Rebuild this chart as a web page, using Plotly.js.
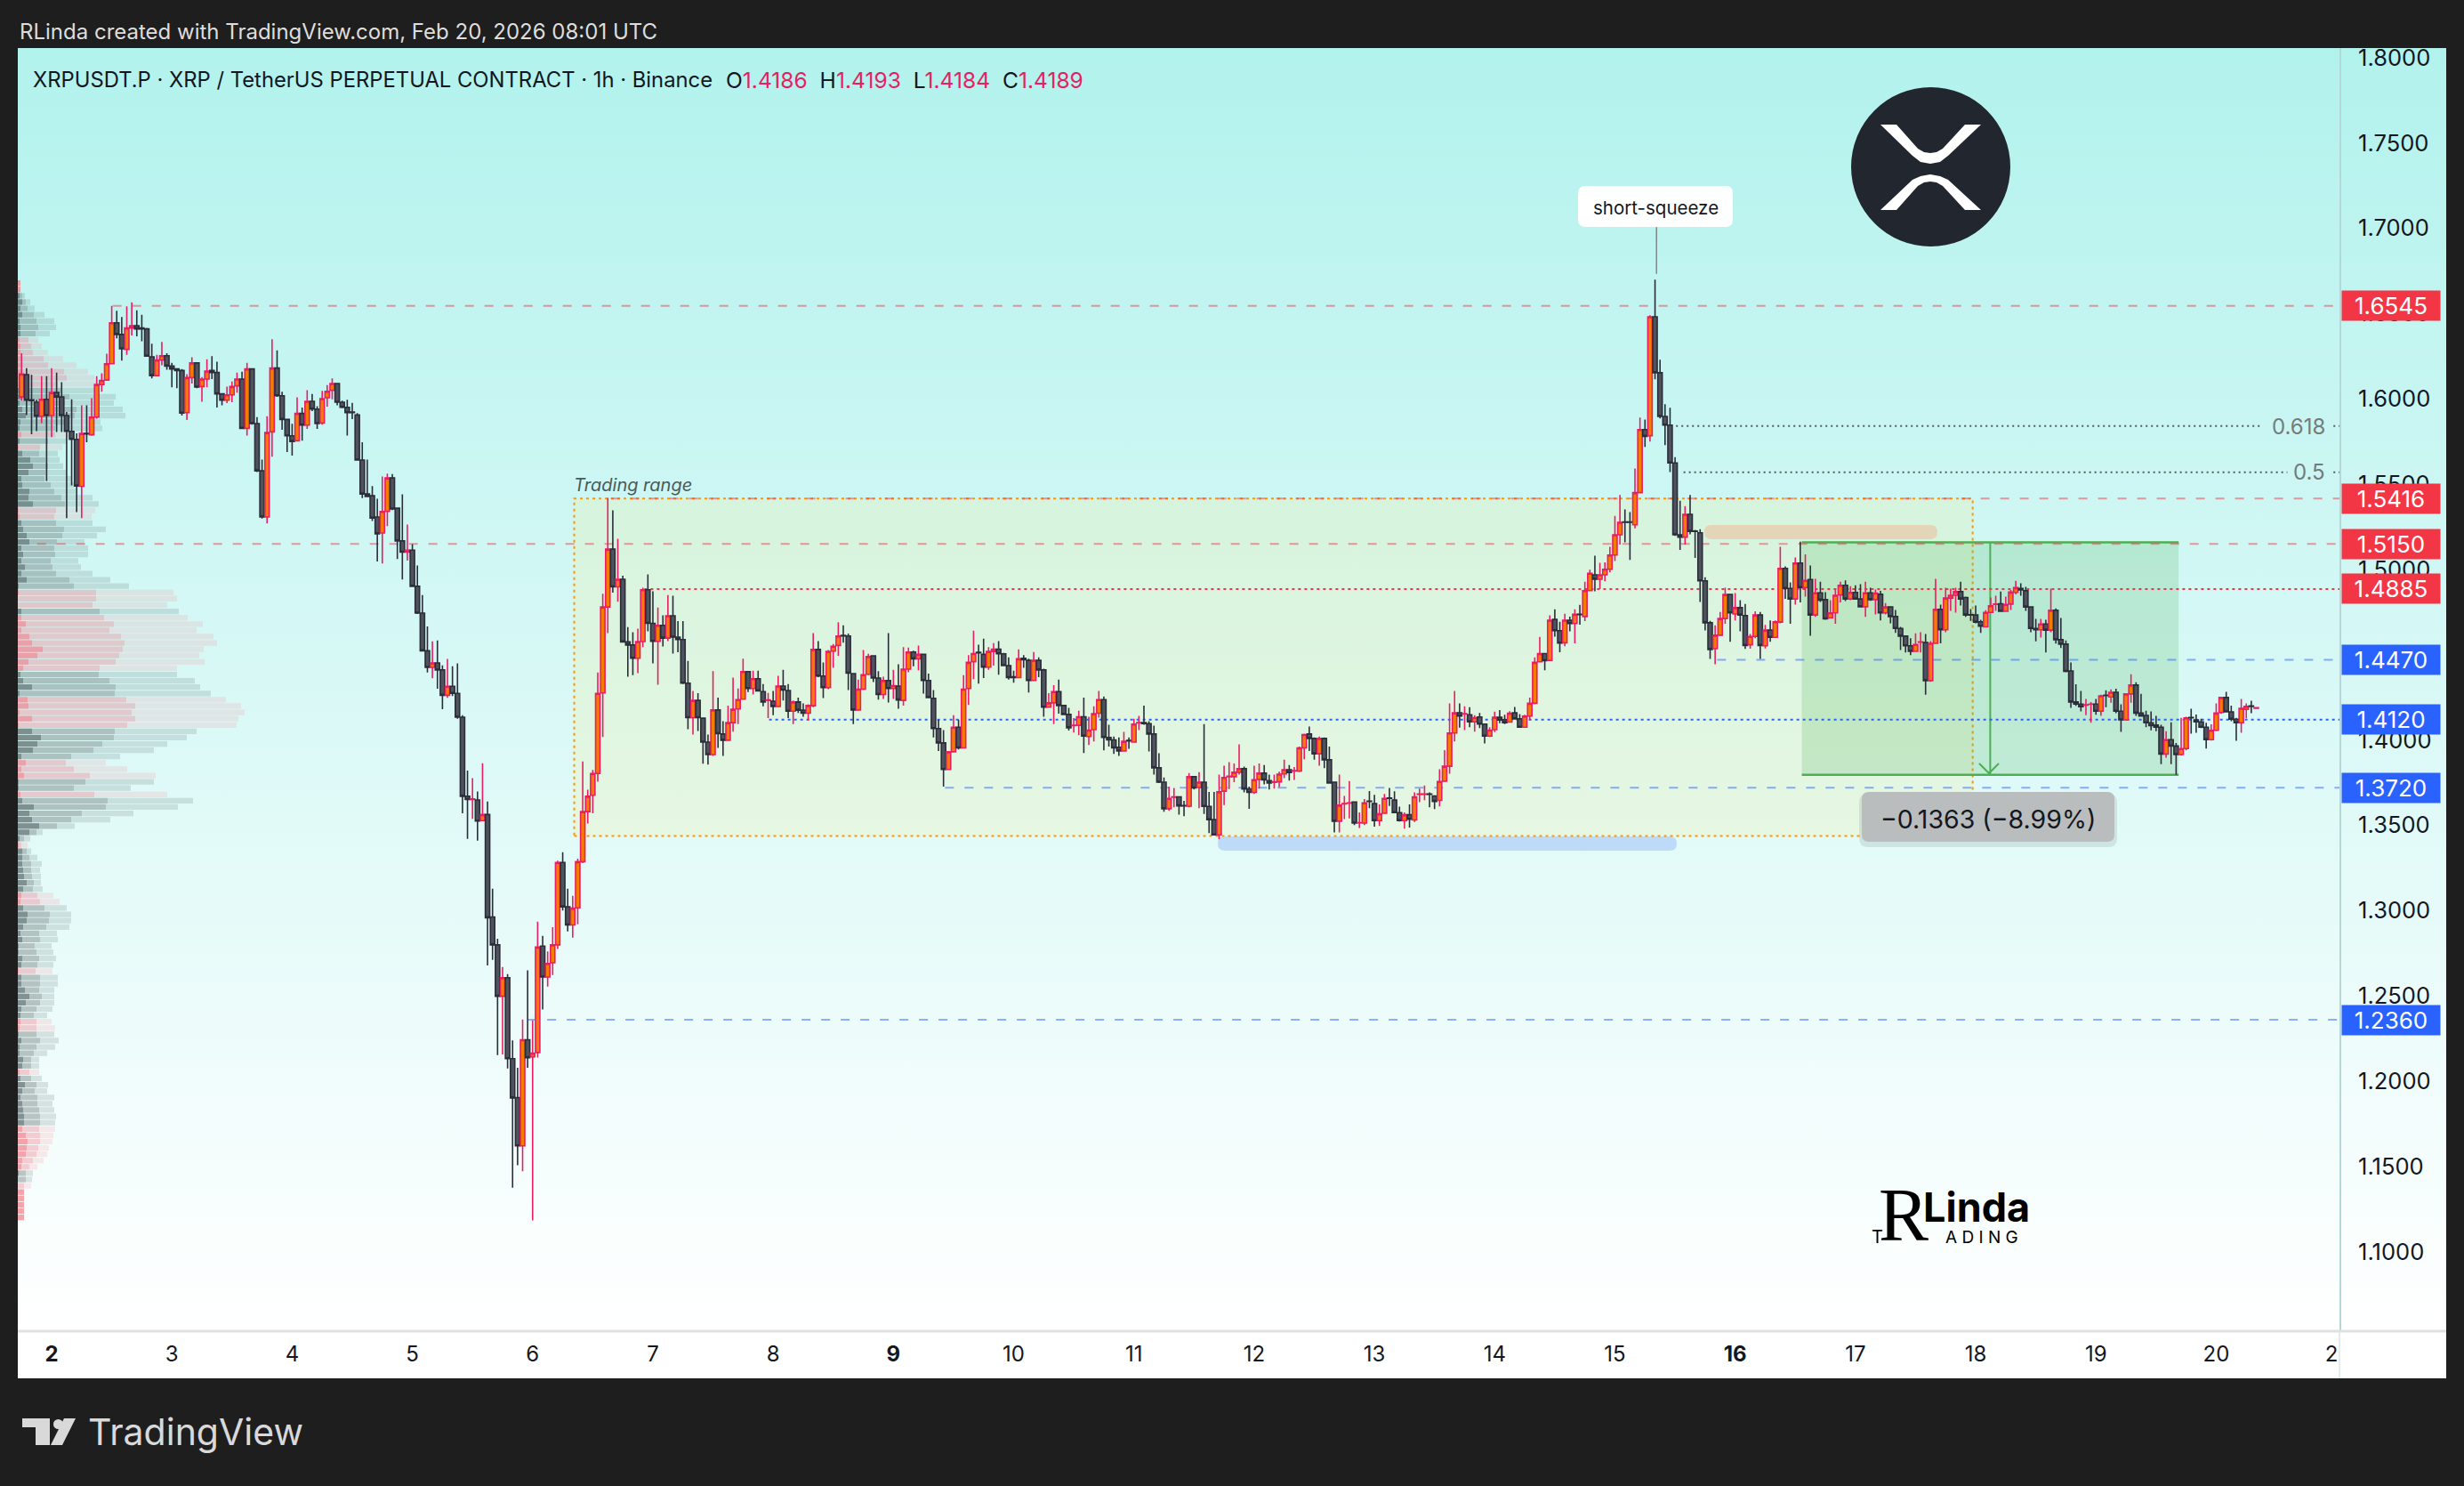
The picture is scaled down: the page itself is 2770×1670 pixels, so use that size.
<!DOCTYPE html>
<html>
<head>
<meta charset="utf-8">
<script src="https://cdn.plot.ly/plotly-3.0.1.min.js"></script>
<style>
  html, body { margin: 0; padding: 0; width: 2770px; height: 1670px; background: #1e1e1e; overflow: hidden; }
  #chart_bg { position: absolute; left: 20px; top: 54px; width: 2730px; height: 1441px; background: linear-gradient(180deg, #b2f2ed 0%, #ffffff 100%); }
  #time_bg { position: absolute; left: 20px; top: 1495px; width: 2730px; height: 54px; background: #ffffff; }
  #graph_panel { position: absolute; left: 0; top: 0; width: 2770px; height: 1670px; }
</style>
</head>
<body>
<div id="chart_bg"></div>
<div id="time_bg"></div>
<div id="graph_panel"></div>
<script>
// hourly candles, one list per day, each row is open, close, high, low
var feb01 = [[1.6011,1.6145,1.6267,1.5989],[1.6142,1.5992,1.6180,1.5905],[1.5994,1.5990,1.6140,1.5792],[1.5980,1.5898,1.5994,1.5811],[1.5898,1.5997,1.6133,1.5858],[1.5997,1.5902,1.6133,1.5519]];
var feb02 = [[1.5902,1.6037,1.6180,1.5776],[1.6037,1.6011,1.6154,1.5806],[1.6011,1.5902,1.6098,1.5806],[1.5902,1.5809,1.5923,1.5301],[1.5809,1.5762,1.5997,1.5493],[1.5762,1.5489,1.5797,1.5336],[1.5487,1.5797,1.5962,1.5301],[1.5797,1.5794,1.5962,1.5745],[1.5789,1.5893,1.6003,1.5783],[1.5893,1.6084,1.6133,1.5884],[1.6084,1.6107,1.6149,1.6041],[1.6110,1.6206,1.6264,1.6110],[1.6206,1.6446,1.6545,1.6206],[1.6446,1.6377,1.6516,1.6354],[1.6377,1.6293,1.6479,1.6224],[1.6290,1.6415,1.6542,1.6258],[1.6415,1.6429,1.6566,1.6371],[1.6429,1.6410,1.6519,1.6366],[1.6415,1.6410,1.6493,1.6337],[1.6410,1.6250,1.6415,1.6246],[1.6246,1.6136,1.6323,1.6119],[1.6136,1.6227,1.6258,1.6131],[1.6227,1.6253,1.6333,1.6197],[1.6253,1.6192,1.6267,1.6171]];
var feb03 = [[1.6192,1.6175,1.6211,1.6067],[1.6175,1.6166,1.6180,1.6062],[1.6166,1.5916,1.6175,1.5902],[1.5919,1.6124,1.6145,1.5876],[1.6124,1.6210,1.6244,1.6090],[1.6210,1.6069,1.6215,1.6062],[1.6072,1.6116,1.6128,1.5983],[1.6116,1.6163,1.6232,1.6067],[1.6166,1.6154,1.6250,1.6116],[1.6154,1.6029,1.6218,1.5949],[1.6029,1.5992,1.6032,1.5962],[1.5992,1.6023,1.6072,1.5975],[1.6023,1.6072,1.6102,1.5980],[1.6076,1.6116,1.6154,1.6036],[1.6116,1.5827,1.6159,1.5823],[1.5827,1.6175,1.6211,1.5785],[1.6175,1.5855,1.6180,1.5849],[1.5855,1.5578,1.5893,1.5571],[1.5578,1.5307,1.5644,1.5298],[1.5307,1.5802,1.5898,1.5270],[1.5806,1.6180,1.6349,1.5661],[1.6180,1.6018,1.6284,1.6011],[1.6018,1.5879,1.6041,1.5818],[1.5879,1.5783,1.5884,1.5688]];
var feb04 = [[1.5783,1.5750,1.5853,1.5667],[1.5754,1.5914,1.6009,1.5750],[1.5914,1.5846,1.5949,1.5754],[1.5846,1.5985,1.6050,1.5823],[1.5985,1.5940,1.6029,1.5928],[1.5940,1.5855,1.5957,1.5823],[1.5858,1.6001,1.6046,1.5849],[1.6006,1.6044,1.6081,1.5954],[1.6050,1.6090,1.6119,1.5997],[1.6090,1.5980,1.6093,1.5962],[1.5980,1.5950,1.5989,1.5945],[1.5950,1.5919,1.5994,1.5785],[1.5922,1.5919,1.5976,1.5881],[1.5905,1.5641,1.5916,1.5637],[1.5641,1.5442,1.5745,1.5418],[1.5442,1.5428,1.5644,1.5423],[1.5432,1.5301,1.5489,1.5284],[1.5307,1.5209,1.5414,1.5046],[1.5213,1.5340,1.5545,1.5035],[1.5340,1.5536,1.5562,1.5254],[1.5536,1.5354,1.5559,1.5348],[1.5359,1.5167,1.5362,1.5061],[1.5167,1.5101,1.5440,1.4941],[1.5101,1.5113,1.5263,1.5052]];
var feb05 = [[1.5113,1.4901,1.5148,1.4896],[1.4901,1.4744,1.5023,1.4739],[1.4744,1.4523,1.4849,1.4520],[1.4523,1.4426,1.4666,1.4396],[1.4426,1.4452,1.4579,1.4362],[1.4452,1.4410,1.4584,1.4301],[1.4411,1.4262,1.4437,1.4181],[1.4262,1.4315,1.4475,1.4247],[1.4315,1.4273,1.4432,1.4258],[1.4273,1.4134,1.4449,1.4124],[1.4134,1.3670,1.4145,1.3570],[1.3670,1.3651,1.3821,1.3421],[1.3651,1.3655,1.3776,1.3538],[1.3649,1.3525,1.3698,1.3410],[1.3527,1.3563,1.3864,1.3527],[1.3563,1.2958,1.3640,1.2679],[1.2963,1.2799,1.3129,1.2711],[1.2799,1.2498,1.2835,1.2153],[1.2498,1.2607,1.2669,1.2157],[1.2607,1.2132,1.2628,1.2075],[1.2132,1.1902,1.2239,1.1376],[1.1904,1.1621,1.2079,1.1508],[1.1621,1.2243,1.2362,1.1472],[1.2243,1.2138,1.2650,1.2079]];
var feb06 = [[1.2143,1.2164,1.2356,1.1184],[1.2168,1.2786,1.2935,1.2138],[1.2792,1.2611,1.2852,1.2420],[1.2611,1.2690,1.2760,1.2554],[1.2694,1.2799,1.2903,1.2622],[1.2799,1.3282,1.3293,1.2775],[1.3282,1.3022,1.3342,1.3001],[1.3022,1.2916,1.3129,1.2878],[1.2916,1.3014,1.3086,1.2841],[1.3016,1.3287,1.3304,1.2920],[1.3287,1.3580,1.3874,1.3278],[1.3580,1.3670,1.3708,1.3510],[1.3676,1.3804,1.3825,1.3570],[1.3804,1.4273,1.4396,1.3755],[1.4276,1.4780,1.4858,1.4018],[1.4780,1.5119,1.5419,1.4627],[1.5119,1.4898,1.5346,1.4864],[1.4898,1.4942,1.5180,1.4811],[1.4942,1.4575,1.4963,1.4571],[1.4575,1.4557,1.4662,1.4371],[1.4557,1.4479,1.4632,1.4380],[1.4479,1.4577,1.4653,1.4392],[1.4577,1.4881,1.4893,1.4545],[1.4881,1.4684,1.4971,1.4637]];
var feb07 = [[1.4684,1.4578,1.4872,1.4449],[1.4578,1.4672,1.4777,1.4324],[1.4672,1.4597,1.4731,1.4549],[1.4597,1.4728,1.4850,1.4580],[1.4728,1.4603,1.4846,1.4507],[1.4603,1.4589,1.4697,1.4514],[1.4589,1.4333,1.4697,1.4328],[1.4333,1.4131,1.4463,1.4063],[1.4131,1.4232,1.4288,1.4032],[1.4232,1.4131,1.4275,1.4053],[1.4128,1.3988,1.4131,1.3861],[1.3988,1.3915,1.4032,1.3856],[1.3915,1.4176,1.4403,1.3907],[1.4176,1.4037,1.4249,1.3954],[1.4035,1.3999,1.4110,1.3907],[1.3999,1.4102,1.4202,1.3994],[1.4102,1.4180,1.4366,1.4049],[1.4182,1.4237,1.4302,1.4093],[1.4239,1.4401,1.4476,1.4237],[1.4401,1.4302,1.4401,1.4281],[1.4302,1.4359,1.4406,1.4267],[1.4359,1.4288,1.4406,1.4284],[1.4284,1.4223,1.4328,1.4197],[1.4232,1.4235,1.4276,1.4128]];
var feb08 = [[1.4227,1.4197,1.4288,1.4145],[1.4197,1.4316,1.4376,1.4194],[1.4316,1.4293,1.4411,1.4232],[1.4290,1.4169,1.4328,1.4128],[1.4169,1.4223,1.4232,1.4093],[1.4223,1.4175,1.4249,1.4159],[1.4175,1.4157,1.4215,1.4136],[1.4157,1.4202,1.4209,1.4114],[1.4201,1.4531,1.4627,1.4192],[1.4531,1.4375,1.4580,1.4368],[1.4375,1.4307,1.4455,1.4246],[1.4307,1.4519,1.4528,1.4298],[1.4521,1.4550,1.4563,1.4423],[1.4554,1.4610,1.4690,1.4493],[1.4613,1.4610,1.4672,1.4571],[1.4610,1.4392,1.4624,1.4293],[1.4389,1.4176,1.4392,1.4093],[1.4176,1.4298,1.4354,1.4171],[1.4298,1.4383,1.4528,1.4293],[1.4385,1.4489,1.4505,1.4380],[1.4493,1.4363,1.4493,1.4340],[1.4363,1.4267,1.4403,1.4237],[1.4267,1.4349,1.4371,1.4241],[1.4349,1.4302,1.4627,1.4220]];
var feb09 = [[1.4302,1.4319,1.4411,1.4241],[1.4316,1.4235,1.4444,1.4183],[1.4232,1.4415,1.4545,1.4201],[1.4415,1.4516,1.4542,1.4397],[1.4516,1.4476,1.4523,1.4432],[1.4476,1.4502,1.4554,1.4409],[1.4502,1.4349,1.4505,1.4272],[1.4349,1.4249,1.4389,1.4246],[1.4244,1.4067,1.4293,1.4015],[1.4067,1.3983,1.4119,1.3936],[1.3983,1.3827,1.4058,1.3727],[1.3827,1.3931,1.3936,1.3823],[1.3931,1.4075,1.4145,1.3927],[1.4075,1.3954,1.4119,1.3945],[1.3954,1.4298,1.4380,1.3950],[1.4302,1.4455,1.4498,1.4206],[1.4459,1.4507,1.4641,1.4357],[1.4514,1.4511,1.4559,1.4331],[1.4502,1.4427,1.4594,1.4363],[1.4427,1.4519,1.4545,1.4411],[1.4519,1.4533,1.4568,1.4436],[1.4533,1.4505,1.4580,1.4383],[1.4505,1.4436,1.4510,1.4432],[1.4436,1.4366,1.4484,1.4354]];
var feb10 = [[1.4371,1.4366,1.4406,1.4336],[1.4366,1.4476,1.4531,1.4363],[1.4479,1.4470,1.4497,1.4423],[1.4467,1.4349,1.4476,1.4279],[1.4349,1.4467,1.4516,1.4345],[1.4467,1.4411,1.4484,1.4368],[1.4411,1.4192,1.4418,1.4136],[1.4192,1.4218,1.4275,1.4188],[1.4218,1.4284,1.4322,1.4093],[1.4284,1.4202,1.4354,1.4154],[1.4202,1.4150,1.4206,1.4145],[1.4150,1.4072,1.4188,1.4055],[1.4084,1.4086,1.4128,1.4044],[1.4086,1.4136,1.4171,1.4028],[1.4136,1.4023,1.4249,1.3924],[1.4020,1.4058,1.4136,1.3971],[1.4061,1.4154,1.4197,1.3992],[1.4157,1.4237,1.4288,1.4131],[1.4237,1.4015,1.4255,1.3940],[1.4015,1.4001,1.4089,1.3962],[1.4001,1.3954,1.4020,1.3919],[1.3957,1.3936,1.4015,1.3907],[1.3936,1.3992,1.4048,1.3933],[1.3998,1.3995,1.4015,1.3948]];
var feb11 = [[1.3988,1.4093,1.4124,1.3985],[1.4100,1.4102,1.4142,1.4058],[1.4102,1.4096,1.4201,1.4089],[1.4096,1.4035,1.4110,1.3933],[1.4035,1.3837,1.4084,1.3797],[1.3837,1.3753,1.3922,1.3748],[1.3753,1.3597,1.3780,1.3580],[1.3597,1.3658,1.3727,1.3585],[1.3665,1.3667,1.3719,1.3606],[1.3667,1.3614,1.3667,1.3562],[1.3616,1.3614,1.3644,1.3553],[1.3612,1.3785,1.3806,1.3606],[1.3785,1.3719,1.3788,1.3710],[1.3722,1.3753,1.3811,1.3600],[1.3753,1.3611,1.4093,1.3567],[1.3611,1.3533,1.3696,1.3454],[1.3533,1.3444,1.3696,1.3440],[1.3444,1.3696,1.3797,1.3418],[1.3700,1.3780,1.3849,1.3619],[1.3785,1.3788,1.3870,1.3713],[1.3785,1.3811,1.3863,1.3753],[1.3811,1.3832,1.3974,1.3797],[1.3832,1.3713,1.3844,1.3693],[1.3713,1.3693,1.3727,1.3597]];
var feb12 = [[1.3693,1.3767,1.3849,1.3684],[1.3769,1.3806,1.3863,1.3715],[1.3806,1.3766,1.3854,1.3740],[1.3762,1.3748,1.3797,1.3710],[1.3752,1.3755,1.3797,1.3715],[1.3755,1.3800,1.3814,1.3724],[1.3802,1.3826,1.3884,1.3776],[1.3826,1.3809,1.3854,1.3762],[1.3818,1.3820,1.3841,1.3766],[1.3818,1.3954,1.3962,1.3811],[1.3954,1.4032,1.4037,1.3887],[1.4035,1.4009,1.4079,1.3936],[1.4009,1.3919,1.4015,1.3884],[1.3919,1.4009,1.4020,1.3849],[1.4009,1.3884,1.4015,1.3835],[1.3884,1.3748,1.3962,1.3745],[1.3753,1.3524,1.3753,1.3458],[1.3524,1.3618,1.3797,1.3458],[1.3625,1.3627,1.3672,1.3536],[1.3630,1.3632,1.3759,1.3541],[1.3637,1.3513,1.3640,1.3501],[1.3514,1.3516,1.3576,1.3484],[1.3513,1.3632,1.3654,1.3501],[1.3642,1.3640,1.3701,1.3600]];
var feb13 = [[1.3627,1.3527,1.3679,1.3492],[1.3527,1.3567,1.3623,1.3496],[1.3571,1.3658,1.3684,1.3567],[1.3660,1.3658,1.3719,1.3614],[1.3648,1.3574,1.3700,1.3571],[1.3574,1.3527,1.3609,1.3522],[1.3527,1.3562,1.3576,1.3480],[1.3562,1.3536,1.3623,1.3487],[1.3531,1.3667,1.3693,1.3519],[1.3682,1.3684,1.3715,1.3635],[1.3682,1.3684,1.3733,1.3647],[1.3684,1.3682,1.3693,1.3606],[1.3672,1.3640,1.3675,1.3595],[1.3646,1.3757,1.3828,1.3611],[1.3759,1.3846,1.3941,1.3757],[1.3846,1.4041,1.4215,1.3802],[1.4041,1.4159,1.4288,1.3992],[1.4159,1.4140,1.4215,1.4072],[1.4152,1.4154,1.4197,1.4058],[1.4148,1.4107,1.4192,1.4075],[1.4107,1.4131,1.4145,1.4049],[1.4135,1.4093,1.4159,1.4070],[1.4093,1.4023,1.4096,1.3980],[1.4023,1.4058,1.4075,1.4018]];
var feb14 = [[1.4061,1.4133,1.4166,1.4046],[1.4133,1.4117,1.4176,1.4098],[1.4119,1.4102,1.4148,1.4093],[1.4105,1.4157,1.4169,1.4102],[1.4159,1.4124,1.4194,1.4119],[1.4124,1.4075,1.4152,1.4072],[1.4075,1.4140,1.4148,1.4072],[1.4140,1.4215,1.4249,1.4115],[1.4215,1.4455,1.4484,1.4209],[1.4458,1.4507,1.4604,1.4455],[1.4507,1.4465,1.4510,1.4409],[1.4467,1.4702,1.4731,1.4463],[1.4707,1.4641,1.4766,1.4606],[1.4641,1.4568,1.4693,1.4514],[1.4570,1.4702,1.4740,1.4550],[1.4702,1.4683,1.4723,1.4637],[1.4683,1.4737,1.4766,1.4566],[1.4737,1.4735,1.4792,1.4676],[1.4724,1.4876,1.4928,1.4697],[1.4876,1.4977,1.4998,1.4872],[1.4968,1.4942,1.5081,1.4872],[1.4942,1.4968,1.5039,1.4885],[1.4968,1.5001,1.5041,1.4931],[1.5001,1.5084,1.5133,1.4983]];
var feb15 = [[1.5084,1.5203,1.5314,1.5049],[1.5203,1.5276,1.5436,1.5145],[1.5278,1.5276,1.5352,1.5159],[1.5278,1.5276,1.5336,1.5055],[1.5262,1.5450,1.5592,1.5241],[1.5450,1.5820,1.5890,1.5446],[1.5820,1.5780,1.5879,1.5718],[1.5784,1.6481,1.6490,1.5749],[1.6481,1.6153,1.6699,1.6114],[1.6153,1.5897,1.6229,1.5885],[1.5897,1.5846,1.5968,1.5728],[1.5846,1.5624,1.5947,1.5571],[1.5624,1.5203,1.5658,1.5197],[1.5203,1.5189,1.5403,1.5114],[1.5189,1.5323,1.5371,1.5145],[1.5323,1.5223,1.5436,1.5206],[1.5225,1.5223,1.5232,1.5067],[1.5215,1.4933,1.5236,1.4809],[1.4933,1.4687,1.4954,1.4642],[1.4687,1.4531,1.4698,1.4475],[1.4535,1.4614,1.4672,1.4444],[1.4614,1.4712,1.4750,1.4609],[1.4712,1.4853,1.4893,1.4681],[1.4853,1.4745,1.4858,1.4576]];
var feb16 = [[1.4739,1.4776,1.4861,1.4701],[1.4776,1.4733,1.4820,1.4637],[1.4729,1.4554,1.4797,1.4534],[1.4558,1.4607,1.4621,1.4535],[1.4607,1.4733,1.4754,1.4597],[1.4733,1.4554,1.4750,1.4475],[1.4552,1.4644,1.4675,1.4536],[1.4644,1.4602,1.4701,1.4576],[1.4602,1.4693,1.4701,1.4598],[1.4691,1.5006,1.5133,1.4684],[1.5006,1.4889,1.5018,1.4827],[1.4889,1.4827,1.4924,1.4681],[1.4827,1.5037,1.5070,1.4794],[1.5037,1.4893,1.5163,1.4806],[1.4893,1.4936,1.5088,1.4841],[1.4941,1.4733,1.5023,1.4611],[1.4733,1.4863,1.4945,1.4722],[1.4863,1.4820,1.4928,1.4809],[1.4823,1.4710,1.4867,1.4705],[1.4716,1.4745,1.4820,1.4714],[1.4745,1.4848,1.4882,1.4681],[1.4850,1.4907,1.4928,1.4806],[1.4907,1.4827,1.4935,1.4815],[1.4827,1.4865,1.4902,1.4820]];
var feb17 = [[1.4865,1.4827,1.4907,1.4823],[1.4827,1.4781,1.4914,1.4780],[1.4781,1.4863,1.4928,1.4722],[1.4863,1.4823,1.4893,1.4816],[1.4823,1.4861,1.4882,1.4736],[1.4854,1.4745,1.4875,1.4701],[1.4745,1.4780,1.4802,1.4736],[1.4780,1.4724,1.4780,1.4684],[1.4724,1.4654,1.4762,1.4628],[1.4654,1.4609,1.4663,1.4527],[1.4609,1.4552,1.4614,1.4513],[1.4552,1.4520,1.4597,1.4498],[1.4520,1.4560,1.4625,1.4519],[1.4574,1.4576,1.4632,1.4513],[1.4571,1.4348,1.4621,1.4266],[1.4348,1.4567,1.4580,1.4341],[1.4567,1.4766,1.4945,1.4566],[1.4766,1.4646,1.4794,1.4566],[1.4646,1.4832,1.4893,1.4632],[1.4832,1.4848,1.4888,1.4757],[1.4848,1.4870,1.4893,1.4747],[1.4870,1.4827,1.4928,1.4788],[1.4835,1.4733,1.4841,1.4722],[1.4735,1.4733,1.4768,1.4698]];
var feb18 = [[1.4733,1.4691,1.4788,1.4684],[1.4693,1.4667,1.4705,1.4628],[1.4663,1.4748,1.4761,1.4660],[1.4748,1.4787,1.4835,1.4745],[1.4795,1.4797,1.4846,1.4757],[1.4799,1.4754,1.4870,1.4750],[1.4754,1.4795,1.4841,1.4750],[1.4797,1.4867,1.4879,1.4762],[1.4865,1.4893,1.4933,1.4854],[1.4889,1.4880,1.4919,1.4846],[1.4875,1.4780,1.4898,1.4757],[1.4780,1.4654,1.4783,1.4632],[1.4654,1.4646,1.4710,1.4579],[1.4646,1.4680,1.4710,1.4600],[1.4680,1.4644,1.4705,1.4513],[1.4644,1.4760,1.4887,1.4632],[1.4760,1.4588,1.4771,1.4565],[1.4588,1.4562,1.4715,1.4539],[1.4562,1.4402,1.4583,1.4397],[1.4405,1.4223,1.4454,1.4188],[1.4223,1.4211,1.4327,1.4200],[1.4211,1.4195,1.4287,1.4167],[1.4204,1.4206,1.4240,1.4146],[1.4209,1.4211,1.4223,1.4101]];
var feb19 = [[1.4211,1.4169,1.4240,1.4148],[1.4169,1.4259,1.4266,1.4141],[1.4263,1.4261,1.4292,1.4193],[1.4252,1.4280,1.4297,1.4219],[1.4280,1.4169,1.4301,1.4157],[1.4169,1.4118,1.4209,1.4047],[1.4118,1.4270,1.4270,1.4113],[1.4270,1.4322,1.4386,1.4219],[1.4322,1.4158,1.4339,1.4141],[1.4158,1.4141,1.4271,1.4136],[1.4144,1.4101,1.4172,1.4075],[1.4101,1.4084,1.4167,1.4057],[1.4088,1.4075,1.4141,1.4052],[1.4075,1.3918,1.4089,1.3859],[1.3918,1.4002,1.4052,1.3897],[1.4002,1.3965,1.4104,1.3859],[1.3965,1.3915,1.3983,1.3796],[1.3915,1.3950,1.4130,1.3910],[1.3950,1.4130,1.4136,1.3939],[1.4132,1.4130,1.4183,1.4037],[1.4118,1.4106,1.4150,1.4043],[1.4106,1.4075,1.4124,1.4070],[1.4075,1.4002,1.4101,1.3950],[1.4002,1.4057,1.4092,1.3997]];
var feb20 = [[1.4057,1.4158,1.4214,1.4052],[1.4161,1.4249,1.4249,1.4153],[1.4249,1.4165,1.4282,1.4162],[1.4165,1.4122,1.4202,1.4110],[1.4122,1.4101,1.4130,1.3995],[1.4101,1.4186,1.4240,1.4043],[1.4179,1.4197,1.4214,1.4127],[1.4200,1.4197,1.4230,1.4157],[1.4186,1.4189,1.4193,1.4184]];

// volume profile rows, top to bottom: p = sell heavy, g = buy heavy
var profile_side = ('pp' + 'ggggggg' + 'pppppppp' + 'ggggggg' + 'p' + 'g' + 'p' + 'ggggggggg' + 'pp' + 'ggggggggggg' + 'ppp' + 'g' + 'ppppppppp' + 'gggg' + 'ppppp' + 'ggggg' + 'ppp' + 'gg' + 'p' + 'ggggggg' + 'p' + 'ggggggg' + 'pp' + 'gggggggggg' + 'p' + 'ggggggg' + 'pp' + 'gggggg' + 'p' + 'gggggggg' + 'ppppppp' + 'gg' + 'pppppp').split('');
var profile_core = [3,3,2,5,3,5,2,3,3,2,3,3,3,3,3,3,3,2,3,2,5,9,3,2,4,2,1,5,14,17,12,4,5,13,12,17,1,2,4,6,10,13,4,6,4,8,4,10,1,1,0,0,4,4,9,4,13,16,28,22,12,6,3,6,16,2,11,12,2,16,1,16,26,22,17,4,9,4,7,1,1,3,5,18,13,16,24,13,2,1,5,5,5,6,7,10,6,4,3,6,11,10,6,3,5,1,1,5,4,1,4,4,8,13,9,4,3,3,2,1,4,2,2,6,5,2,3,8,5,3,5,6,7,7,5,9,11,10,9,5,4,1,0,0,7,7,7,7,7];
var profile_mid = [3,3,5,9,11,18,21,23,20,12,15,17,29,34,52,55,45,50,58,53,66,64,53,42,42,34,25,24,31,34,31,30,37,41,49,53,43,41,43,52,50,44,41,42,37,39,43,58,63,88,88,84,92,97,108,103,116,120,118,114,110,92,91,103,110,109,122,132,128,132,123,109,108,95,85,60,54,63,81,76,63,86,101,99,72,60,44,21,7,4,10,13,15,15,16,18,17,22,25,30,36,35,32,24,25,19,21,24,22,20,25,25,24,27,25,21,18,21,21,21,25,21,18,15,15,13,15,21,19,22,22,24,25,25,24,25,25,23,21,17,13,9,9,7,7,7,7,7,7];
var profile_wide = [3,3,8,14,19,30,41,43,36,23,27,34,51,66,79,86,90,86,110,108,118,121,93,95,62,55,50,45,47,51,55,60,64,65,84,91,87,83,84,99,89,75,79,79,68,71,84,104,125,175,179,168,181,191,208,201,220,224,209,204,210,179,179,199,205,217,234,251,255,248,246,201,190,168,153,115,99,123,155,153,127,168,197,180,130,104,64,28,14,11,15,22,27,25,26,26,28,40,47,55,60,60,58,44,45,38,40,43,40,39,45,45,41,41,41,39,33,38,42,41,46,42,33,24,24,24,27,34,33,41,39,41,43,42,42,40,39,35,33,29,22,17,16,15,7,7,7,7,7];
var profile_top_price = 1.6678;
var profile_step = 0.0037;

// labelled levels on the price scale
var level_prices = [1.6545, 1.5416, 1.5150, 1.4885, 1.4470, 1.4120, 1.3720, 1.2360];
var level_starts = [12.2, 111.6, -2.9, 118.3, 332.4, 143.2, 178.3, 95];
var level_labels = ['1.6545', '1.5416', '1.5150', '1.4885', '1.4470', '1.4120', '1.3720', '1.2360'];
var level_kinds = ['res', 'res', 'res', 'res_dot', 'sup', 'sup_dot', 'sup', 'sup'];

var price_ticks = [1.80, 1.75, 1.70, 1.65, 1.60, 1.55, 1.50, 1.45, 1.40, 1.35, 1.30, 1.25, 1.20, 1.15, 1.10];
var day_labels = ['<b>2</b>', '3', '4', '5', '6', '7', '8', '<b>9</b>', '10', '11', '12', '13', '14', '15', '<b>16</b>', '17', '18', '19', '20', '2'];
var day_hours = [0, 24, 48, 72, 96, 120, 144, 168, 192, 216, 240, 264, 288, 312, 336, 360, 384, 408, 432, 455];

var range_hours = [104.3, 383.4];
var range_prices = [1.3438, 1.5416];
var move_hours = [349.3, 386.9, 424.5];
var move_prices = [1.5159, 1.3796];

var candles = [].concat(feb01, feb02, feb03, feb04, feb05, feb06, feb07, feb08, feb09, feb10, feb11, feb12, feb13, feb14, feb15, feb16, feb17, feb18, feb19, feb20);
var hours = candles.map(function (c, i) { return i - 6; });
var profile_levels = profile_core.map(function (v, i) { return profile_top_price - i * profile_step; });

var W = 2770, H = 1670, L = 20, T = 54, R = 140, B = 175;
var font_name = 'Inter, "Noto Sans", sans-serif';

// pixel position on the page to paper coordinates, only used for decoration
function pxX(x) { return (x - L) / (W - L - R); }
function pxY(y) { return 1 - (y - T) / (H - T - B); }
function pathPx(points) {
  return points.map(function (p, i) { return (i ? 'L' : 'M') + pxX(p[0]) + ',' + pxY(p[1]); }).join(' ') + ' Z';
}
function roundRectPx(x0, y0, x1, y1, r) {
  var s = 'M' + pxX(x0 + r) + ',' + pxY(y0) + ' L' + pxX(x1 - r) + ',' + pxY(y0);
  s += ' Q' + pxX(x1) + ',' + pxY(y0) + ' ' + pxX(x1) + ',' + pxY(y0 + r);
  s += ' L' + pxX(x1) + ',' + pxY(y1 - r) + ' Q' + pxX(x1) + ',' + pxY(y1) + ' ' + pxX(x1 - r) + ',' + pxY(y1);
  s += ' L' + pxX(x0 + r) + ',' + pxY(y1) + ' Q' + pxX(x0) + ',' + pxY(y1) + ' ' + pxX(x0) + ',' + pxY(y1 - r);
  s += ' L' + pxX(x0) + ',' + pxY(y0 + r) + ' Q' + pxX(x0) + ',' + pxY(y0) + ' ' + pxX(x0 + r) + ',' + pxY(y0) + ' Z';
  return s;
}
function paperShape(path, color, layer) {
  return { type: 'path', xref: 'paper', yref: 'paper', path: path, fillcolor: color, line: { width: 0 }, layer: layer || 'above' };
}
function hline(price, x0, x1, color, dash, width) {
  return { type: 'line', xref: 'x2', yref: 'y', x0: x0, x1: x1, y0: price, y1: price, layer: 'below', line: { color: color, dash: dash, width: width } };
}
function textNote(text, x, y, size, color, anchor, extra) {
  var note = { text: text, xref: 'paper', yref: 'paper', x: pxX(x), y: pxY(y), xanchor: anchor || 'left', yanchor: 'middle', showarrow: false, font: { family: font_name, size: size, color: color } };
  for (var k in extra) note[k] = extra[k];
  return note;
}

var level_styles = {
  res: { color: 'rgba(242,54,69,0.5)', dash: '10px,12px', tag: '#f23645' },
  res_dot: { color: '#f23645', dash: '3px,4px', tag: '#f23645' },
  sup: { color: 'rgba(41,98,255,0.5)', dash: '10px,12px', tag: '#2962ff' },
  sup_dot: { color: '#2962ff', dash: '3px,4px', tag: '#2962ff' }
};

function sideColors(pink, grey) {
  return profile_side.map(function (s) { return s === 'p' ? pink : grey; });
}
function profileTrace(widths, pink, grey) {
  return { type: 'bar', orientation: 'h', xaxis: 'x', yaxis: 'y', x: widths, y: profile_levels, width: profile_step * 0.88, marker: { color: sideColors(pink, grey), line: { width: 0 } }, hoverinfo: 'skip' };
}

function createGraph() {
  var data = [
    profileTrace(profile_wide, 'rgba(253,114,130,0.15)', 'rgba(113,131,131,0.22)'),
    profileTrace(profile_mid, 'rgba(231,107,122,0.22)', 'rgba(108,120,120,0.28)'),
    profileTrace(profile_core, 'rgba(246,111,124,0.45)', 'rgba(54,71,73,0.4)'),
    {
      type: 'candlestick', xaxis: 'x2', yaxis: 'y', x: hours,
      open: candles.map(function (c) { return c[0]; }),
      close: candles.map(function (c) { return c[1]; }),
      high: candles.map(function (c) { return c[2]; }),
      low: candles.map(function (c) { return c[3]; }),
      whiskerwidth: 0,
      increasing: { line: { color: '#e91e63', width: 1.6 }, fillcolor: '#f57c00' },
      decreasing: { line: { color: '#2a2e39', width: 1.6 }, fillcolor: '#50535e' },
      hoverinfo: 'skip'
    }
  ];

  var shapes = [
    // trading range box
    { type: 'rect', xref: 'x2', yref: 'y', x0: range_hours[0], x1: range_hours[1], y0: range_prices[0], y1: range_prices[1], layer: 'below', fillcolor: 'rgba(250,236,140,0.2)', line: { color: '#ff9800', width: 2, dash: '3px,4px' } },
    // measured move
    { type: 'rect', xref: 'x2', yref: 'y', x0: move_hours[0], x1: move_hours[2], y0: move_prices[1], y1: move_prices[0], layer: 'below', fillcolor: 'rgba(76,175,80,0.2)', line: { width: 0 } },
    hline(move_prices[0], move_hours[0], move_hours[2], '#4caf50', 'solid', 2.5),
    hline(move_prices[1], move_hours[0], move_hours[2], '#4caf50', 'solid', 2.5),
    { type: 'line', xref: 'x2', yref: 'y', x0: move_hours[1], x1: move_hours[1], y0: move_prices[0], y1: move_prices[1], layer: 'below', line: { color: '#4caf50', width: 2 } },
    { type: 'path', xref: 'paper', yref: 'paper', path: 'M' + pxX(2225) + ',' + pxY(858) + ' L' + pxX(2236) + ',' + pxY(869) + ' L' + pxX(2247) + ',' + pxY(858), line: { color: '#4caf50', width: 2 }, layer: 'below' },
    // fib levels
    hline(1.584, 324.2, 440.9, '#555c5c', '2px,4px', 2),
    hline(1.584, 455.4, 456.6, '#555c5c', '2px,4px', 2),
    hline(1.557, 325.7, 446.2, '#555c5c', '2px,4px', 2),
    hline(1.557, 455.4, 456.6, '#555c5c', '2px,4px', 2),
    // zones
    paperShape(roundRectPx(1916, 590, 2178, 606, 8), '#dfd0c4', 'below'),
    paperShape(roundRectPx(1369, 940, 1885, 956, 8), '#bddbf8', 'below'),
    // price scale line carried down through the time strip
    { type: 'line', xref: 'paper', yref: 'paper', x0: 1, x1: 1, y0: pxY(1495), y1: pxY(1549), line: { color: '#e4ecec', width: 2 }, layer: 'above' },
    { type: 'line', xref: 'paper', yref: 'paper', x0: 0, x1: pxX(2750), y0: pxY(1496), y1: pxY(1496), line: { color: '#e0e0e0', width: 3 }, layer: 'above' },
    // short-squeeze callout
    { type: 'line', xref: 'x2', yref: 'y', x0: 320.3, x1: 320.3, y0: 1.7006, y1: 1.6733, line: { color: '#7a8a8a', width: 1.5 }, layer: 'above' },
    paperShape(roundRectPx(1774, 209, 1948, 255, 8), '#ffffff'),
    // result badge with soft shadow
    paperShape(roundRectPx(2090, 892, 2380, 952, 10), 'rgba(120,130,130,0.18)'),
    paperShape(roundRectPx(2093, 890, 2377, 946, 8), '#b9bdbd'),
    // XRP badge
    { type: 'circle', xref: 'paper', yref: 'paper', x0: pxX(2081), x1: pxX(2260), y0: pxY(277), y1: pxY(98), fillcolor: '#22262f', line: { width: 0 }, layer: 'above' },
    paperShape(pathPx([[2114, 140], [2132, 140], [2156, 167], [2163, 171], [2170, 172], [2177, 171], [2184, 167], [2209, 140], [2227, 140], [2190, 175], [2181, 182], [2170, 184], [2159, 182], [2150, 175]]), '#ffffff'),
    paperShape(pathPx([[2114, 236], [2132, 236], [2156, 209], [2163, 205], [2170, 204], [2177, 205], [2184, 209], [2209, 236], [2227, 236], [2190, 202], [2181, 198], [2170, 196], [2159, 198], [2150, 202]]), '#ffffff'),
    // footer logo
    paperShape(pathPx([[25, 1594], [56, 1594], [56, 1624], [40, 1624], [40, 1604], [25, 1604]]), '#d9d9d9'),
    { type: 'circle', xref: 'paper', yref: 'paper', x0: pxX(60), x1: pxX(71), y0: pxY(1606), y1: pxY(1595), fillcolor: '#d9d9d9', line: { width: 0 }, layer: 'above' },
    paperShape(pathPx([[72, 1594], [85, 1594], [70, 1624], [57, 1624]]), '#d9d9d9')
  ];

  var notes = [
    textNote('RLinda created with TradingView.com, Feb 20, 2026 08:01 UTC', 20, 35, 24, '#dddddd'),
    textNote('XRPUSDT.P · XRP / TetherUS PERPETUAL CONTRACT · 1h · Binance', 35, 90, 23.8, '#131722'),
    textNote('O<span style="color:#e91e63">1.4186</span>  H<span style="color:#e91e63">1.4193</span>  L<span style="color:#e91e63">1.4184</span>  C<span style="color:#e91e63">1.4189</span>', 814, 90, 24.6, '#131722'),
    textNote('TradingView', 97, 1609, 41, '#d9d9d9', 'left', {}),
    textNote('0.618', 2616, 479, 24, '#747c7c', 'right'),
    textNote('0.5', 2616, 530, 24, '#747c7c', 'right'),
    textNote('short-squeeze', 1861, 233, 20.5, '#131722', 'center'),
    textNote('−0.1363 (−8.99%)', 2235, 920, 28.5, '#131722', 'center'),
    textNote('<i>Trading range</i>', 643, 545, 20, '#4a5a5a'),
    textNote('R', 2110, 1365, 84, '#000000', 'left', { font: { family: 'Liberation Serif', size: 84, color: '#000000' } }),
    textNote('<b>Linda</b>', 2160, 1356, 45, '#000000'),
    textNote('T', 2102, 1390, 20, '#000000'),
    textNote('A D I N G', 2185, 1390, 19, '#000000')
  ];

  level_prices.forEach(function (price, i) {
    var style = level_styles[level_kinds[i]];
    shapes.push(hline(price, level_starts[i], 456.6, style.color, style.dash, 2));
    notes.push({
      text: level_labels[i], xref: 'paper', yref: 'y', x: 1, y: price, xshift: 2, xanchor: 'left', yanchor: 'middle',
      showarrow: false, width: 110, height: 33, align: 'center', valign: 'middle', bgcolor: style.tag, borderpad: 0,
      font: { family: font_name, size: 26, color: '#ffffff' }
    });
  });

  var layout = {
    width: W, height: H, showlegend: false, paper_bgcolor: 'rgba(0,0,0,0)', plot_bgcolor: 'rgba(0,0,0,0)',
    margin: { l: L, r: R, t: T, b: B, pad: 0 }, barmode: 'overlay', boxgap: 0.12, boxgroupgap: 0,
    xaxis: { range: [0, 2610], visible: false, fixedrange: true },
    xaxis2: {
      overlaying: 'x', anchor: 'y', side: 'bottom', range: [-6.75, 456.6], rangeslider: { visible: false }, showgrid: false, zeroline: false,
      tickmode: 'array', tickvals: day_hours, ticktext: day_labels, ticks: 'outside', ticklen: 5, tickcolor: 'rgba(0,0,0,0)',
      tickangle: 0, tickfont: { family: font_name, size: 24, color: '#131722' }, fixedrange: true
    },
    yaxis: {
      side: 'right', range: [1.0540, 1.8056], showgrid: false, zeroline: false, showline: true, linecolor: '#b5d8d6', linewidth: 2,
      tickmode: 'array', tickvals: price_ticks, ticktext: price_ticks.map(function (v) { return v.toFixed(4); }),
      ticks: 'outside', ticklen: 14, tickcolor: 'rgba(0,0,0,0)', tickfont: { family: font_name, size: 25.5, color: '#131722' }, fixedrange: true
    },
    shapes: shapes, annotations: notes
  };
  Plotly.newPlot('graph_panel', data, layout, { staticPlot: true });
}

createGraph();
</script>
</body>
</html>
